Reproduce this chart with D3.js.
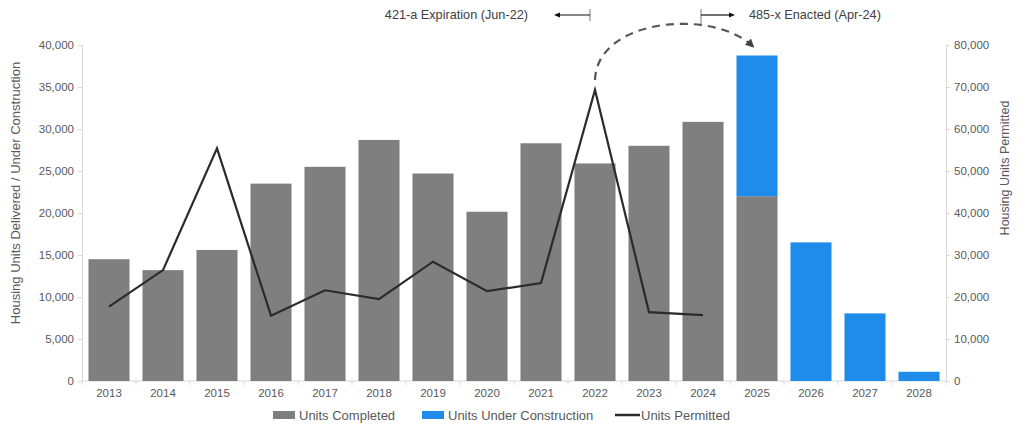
<!DOCTYPE html>
<html>
<head>
<meta charset="utf-8">
<script src="https://cdn.jsdelivr.net/npm/d3@7"></script>
<style>
  html, body { margin: 0; padding: 0; background: #fff; }
  svg { display: block; font-family: "Liberation Sans", Arial, sans-serif; }
</style>
</head>
<body>
<svg id="chart" width="1023" height="429"></svg>
<script>
// Housing pipeline by year
const years = ["2013","2014","2015","2016","2017","2018","2019","2020","2021","2022","2023","2024","2025","2026","2027","2028"];
const unitsCompleted = [14500, 13200, 15600, 23500, 25500, 28700, 24700, 20150, 28300, 25900, 28000, 30850, 22000, 0, 0, 0];
const unitsUnderConstruction = [0, 0, 0, 0, 0, 0, 0, 0, 0, 0, 0, 0, 16750, 16500, 8050, 1100];
const permitYears = ["2013","2014","2015","2016","2017","2018","2019","2020","2021","2022","2023","2024"];
const unitsPermitted = [17700, 26400, 55400, 15550, 21600, 19500, 28400, 21400, 23300, 69300, 16400, 15700];
const leftTicks = [0, 5000, 10000, 15000, 20000, 25000, 30000, 35000, 40000];
const rightTicks = [0, 10000, 20000, 30000, 40000, 50000, 60000, 70000, 80000];

const svg = d3.select("#chart");
const margin = { top: 45, right: 77, bottom: 48, left: 82 };
const W = 1023, H = 429;
const plotW = W - margin.left - margin.right;
const plotH = H - margin.top - margin.bottom;

const COLOR_DONE = "#7f7f7f";
const COLOR_UC = "#1f8ceb";
const COLOR_LINE = "#2b2b2b";
const TEXT = "#595959";
const AXIS = "#d9d9d9";

const x = d3.scaleBand().domain(years).range([0, plotW]).paddingInner(0.24).paddingOuter(0.12);
const yL = d3.scaleLinear().domain([0, 40000]).range([plotH, 0]);
const yR = d3.scaleLinear().domain([0, 80000]).range([plotH, 0]);

const g = svg.append("g").attr("transform", `translate(${margin.left},${margin.top})`);

const fmt = d3.format(",");

// Left axis
const leftAxis = g.append("g")
  .call(d3.axisLeft(yL).tickValues(leftTicks).tickFormat(fmt).tickSize(4).tickPadding(4));
// Right axis
const rightAxis = g.append("g").attr("transform", `translate(${plotW},0)`)
  .call(d3.axisRight(yR).tickValues(rightTicks).tickFormat(fmt).tickSize(4).tickPadding(4));
[leftAxis, rightAxis].forEach(a => {
  a.select(".domain").attr("stroke", AXIS);
  a.selectAll(".tick line").attr("stroke", AXIS);
  a.selectAll(".tick text").attr("fill", TEXT).style("font-size", "11.5px").style("font-family", "Liberation Sans, Arial, sans-serif");
});

// Bottom axis with ticks at category boundaries
const xAxisG = g.append("g").attr("transform", `translate(0,${plotH})`);
xAxisG.append("line").attr("x1", 0).attr("x2", plotW).attr("stroke", AXIS);
const step = x.step();
const bounds = d3.range(years.length + 1).map(i => i * step);
xAxisG.selectAll("line.b").data(bounds).join("line").attr("class", "b")
  .attr("x1", d => d).attr("x2", d => d).attr("y1", 0).attr("y2", 4).attr("stroke", AXIS);
xAxisG.selectAll("text").data(years).join("text")
  .attr("x", d => x(d) + x.bandwidth() / 2).attr("y", 16)
  .attr("text-anchor", "middle").attr("fill", TEXT).style("font-size", "11.5px").text(d => d);

// Stacked bars
const rows = years.map((yr, i) => ({ year: yr, done: unitsCompleted[i], uc: unitsUnderConstruction[i] }));
g.append("g").selectAll("rect").data(rows.filter(d => d.done > 0)).join("rect")
  .attr("x", d => x(d.year)).attr("width", x.bandwidth())
  .attr("y", d => yL(d.done)).attr("height", d => yL(0) - yL(d.done))
  .attr("fill", COLOR_DONE);
g.append("g").selectAll("rect").data(rows.filter(d => d.uc > 0)).join("rect")
  .attr("x", d => x(d.year)).attr("width", x.bandwidth())
  .attr("y", d => yL(d.done + d.uc)).attr("height", d => yL(d.done) - yL(d.done + d.uc))
  .attr("fill", COLOR_UC);

// Permits line
const cx = d => x(d) + x.bandwidth() / 2;
const permits = permitYears.map((yr, i) => ({ year: yr, v: unitsPermitted[i] }));
g.append("path").datum(permits)
  .attr("fill", "none").attr("stroke", COLOR_LINE).attr("stroke-width", 2.2).attr("stroke-linejoin", "miter")
  .attr("d", d3.line().x(d => cx(d.year)).y(d => yR(d.v)));

// Policy annotations
const defs = svg.append("defs");
defs.append("marker").attr("id", "dot").attr("viewBox", "0 0 10 10").attr("refX", 5).attr("refY", 5)
  .attr("markerWidth", 5).attr("markerHeight", 5).attr("orient", "auto")
  .append("path").attr("d", "M0,1 L10,5 L0,9 Z").attr("fill", "#111");
defs.append("marker").attr("id", "head").attr("viewBox", "0 0 10 10").attr("refX", 8).attr("refY", 5)
  .attr("markerWidth", 4).attr("markerHeight", 4).attr("orient", "auto")
  .append("path").attr("d", "M0,0 L10,5 L0,10 Z").attr("fill", "#444");

const ann = svg.append("g");
const expX = margin.left + cx("2022") - 5;
const actX = margin.left + cx("2024") - 2;
const annY = 15;
ann.append("line").attr("x1", expX).attr("x2", expX).attr("y1", annY - 6).attr("y2", annY + 6).attr("stroke", "#777").attr("stroke-width", 1);
ann.append("line").attr("x1", expX).attr("x2", expX - 33).attr("y1", annY).attr("y2", annY)
  .attr("stroke", "#111").attr("stroke-width", 1.2).attr("marker-end", "url(#dot)");
ann.append("text").attr("x", expX - 62).attr("y", annY + 4).attr("text-anchor", "end")
  .attr("fill", "#404040").style("font-size", "12.7px").text("421-a Expiration (Jun-22)");
ann.append("line").attr("x1", actX).attr("x2", actX).attr("y1", annY - 6).attr("y2", annY + 10).attr("stroke", "#777").attr("stroke-width", 1);
ann.append("line").attr("x1", actX).attr("x2", actX + 31).attr("y1", annY).attr("y2", annY)
  .attr("stroke", "#111").attr("stroke-width", 1.2).attr("marker-end", "url(#dot)");
ann.append("text").attr("x", actX + 48).attr("y", annY + 4).attr("text-anchor", "start")
  .attr("fill", "#404040").style("font-size", "12.7px").text("485-x Enacted (Apr-24)");

// Dashed arc from the 2022 permit peak to the 2025 pipeline
const p0 = [margin.left + cx("2022"), margin.top + yR(unitsPermitted[9]) - 10];
const i25 = years.indexOf("2025");
const p3 = [margin.left + cx("2025") - 4, margin.top + yL(unitsCompleted[i25] + unitsUnderConstruction[i25]) - 9];
const arc = d3.path();
arc.moveTo(p0[0], p0[1]);
arc.bezierCurveTo(p0[0] + 2, 18, p3[0] - 40, 8, p3[0], p3[1]);
svg.append("path").attr("d", arc.toString()).attr("fill", "none").attr("stroke", "#555")
  .attr("stroke-width", 2.2).attr("stroke-dasharray", "8,6").attr("marker-end", "url(#head)");

// Axis titles
svg.append("text").attr("transform", `translate(20,${margin.top + plotH / 2 - 20}) rotate(-90)`)
  .attr("text-anchor", "middle").attr("fill", TEXT).style("font-size", "13px")
  .text("Housing Units Delivered / Under Construction");
svg.append("text").attr("transform", `translate(1009,${margin.top + plotH / 2 - 45}) rotate(-90)`)
  .attr("text-anchor", "middle").attr("fill", TEXT).style("font-size", "12.5px")
  .text("Housing Units Permitted");

// Legend
const lg = svg.append("g").attr("transform", "translate(273,415)");
const items = [
  { label: "Units Completed", type: "rect", color: COLOR_DONE, x: 0 },
  { label: "Units Under Construction", type: "rect", color: COLOR_UC, x: 149 },
  { label: "Units Permitted", type: "line", color: COLOR_LINE, x: 342 }
];
items.forEach(it => {
  const ig = lg.append("g").attr("transform", `translate(${it.x},0)`);
  if (it.type === "rect") ig.append("rect").attr("x", 0).attr("y", -4).attr("width", 22).attr("height", 8).attr("fill", it.color);
  else ig.append("line").attr("x1", 0).attr("x2", 25).attr("y1", 0).attr("y2", 0).attr("stroke", it.color).attr("stroke-width", 2.5);
  ig.append("text").attr("x", 26).attr("y", 4.5).attr("fill", TEXT).style("font-size", "13px").text(it.label);
});
</script>
</body>
</html>
